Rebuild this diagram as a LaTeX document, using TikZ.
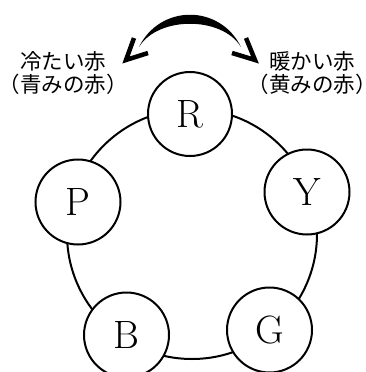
\documentclass[tikz,border=0pt]{standalone}
\usepackage{fontspec}
\newfontfamily\jpfont{Noto Sans CJK JP}
\newcommand\lpar{{\addfontfeature{RawFeature=+halt}（}}
\newcommand\rpar{{\addfontfeature{RawFeature=+halt}）}}
\tikzset{
  color circle/.style={circle, draw, line width=2pt, fill=white, minimum size=85pt, inner sep=0pt, font=\fontsize{39.5}{40}\selectfont},
  jplabel/.style={align=center, inner sep=0pt, font=\jpfont\fontsize{21.5}{23}\selectfont},
  barb/.style={line width=4.5pt, line cap=butt, line join=miter}
}
\begin{document}
\begin{tikzpicture}[x=1pt,y=-1pt]
\useasboundingbox (0,0) rectangle (366,372);
\fill[white] (0,0) rectangle (366,372);
% big ring
\draw[line width=2pt] (192,234) circle[radius=125];
% colour circles
\node[color circle, minimum size=84pt] (R) at (190,114) {R};
\node[color circle] (Y) at (307,192) {Y};
\node[color circle] (G) at (269.5,330) {G};
\node[color circle] (B) at (126.5,335) {B};
\node[color circle] (P) at (78,202) {P};
% labels
\node[jplabel] (cold) at (63,73) {冷たい赤\\\lpar 青みの赤\rpar};
\node[jplabel] (warm) at (312,73) {暖かい赤\\\lpar 黄みの赤\rpar};
% double arrow (crescent)
\coordinate (al) at (139,47);
\coordinate (ar) at (241,47);
\fill (al) .. controls (160,4) and (220,4) .. (ar)
      .. controls (222,16) and (158,16) .. (al) -- cycle;
\coordinate (ltip) at (126,60);
\coordinate (rtip) at (255,60);
\draw[barb] (134,38) -- (ltip) -- (148,53);
\draw[barb] (246,38) -- (rtip) -- (232,53);
\end{tikzpicture}
\end{document}
